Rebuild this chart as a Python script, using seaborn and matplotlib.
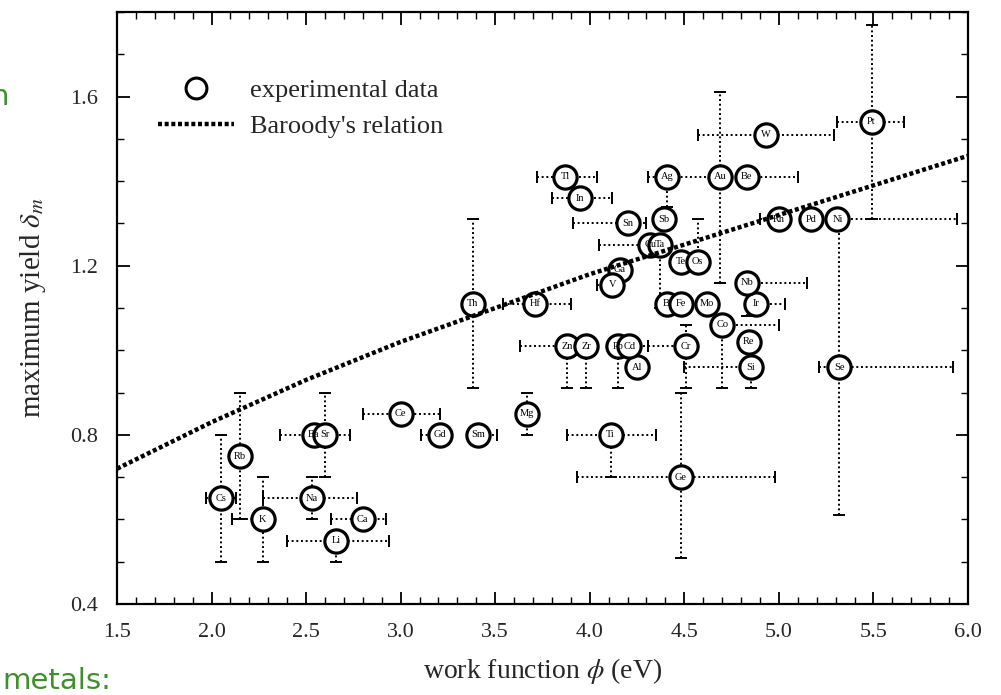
import numpy as np
import pandas as pd
import matplotlib
matplotlib.use("Agg")
import matplotlib.pyplot as plt
import seaborn as sns
from matplotlib.ticker import MultipleLocator, FormatStrFormatter
from matplotlib.lines import Line2D

# ---------------- data ----------------
elements = ["Cs", "Rb", "K", "Na", "Li", "Ca", "Ba", "Sr", "Ce", "Gd",
            "Sm", "Mg", "Th", "Hf", "Tl", "In", "Sn", "Ag", "Au", "Be",
            "W", "Pt", "Rh", "Pd", "Ni", "Se", "Ge", "Ti", "Al", "Zn",
            "Zr", "Pb", "Cd", "Cr", "Si", "Re", "Co", "Bi", "Fe", "Mo",
            "Ir", "Nb", "Ga", "V", "Cu", "Ta", "Sb", "Te", "Os"]
work_fn = [2.05, 2.15, 2.27, 2.53, 2.66, 2.80, 2.54, 2.60, 3.00, 3.21,
           3.41, 3.67, 3.38, 3.71, 3.87, 3.95, 4.20, 4.41, 4.69, 4.83,
           4.93, 5.49, 5.00, 5.17, 5.31, 5.32, 4.48, 4.11, 4.25, 3.88,
           3.98, 4.15, 4.21, 4.51, 4.85, 4.84, 4.70, 4.41, 4.48, 4.62,
           4.88, 4.83, 4.16, 4.12, 4.32, 4.37, 4.39, 4.48, 4.57]
max_yield = [0.65, 0.75, 0.60, 0.65, 0.55, 0.60, 0.80, 0.80, 0.85, 0.80,
             0.80, 0.85, 1.11, 1.11, 1.41, 1.36, 1.30, 1.41, 1.41, 1.41,
             1.51, 1.54, 1.31, 1.31, 1.31, 0.96, 0.70, 0.80, 0.96, 1.01,
             1.01, 1.01, 1.01, 1.01, 0.96, 1.02, 1.06, 1.11, 1.11, 1.11,
             1.11, 1.16, 1.19, 1.155, 1.25, 1.25, 1.31, 1.21, 1.21]
xerr_lo = [0.08, 0.04, 0.16, 0.26, 0.26, 0.17, 0.18, 0.00, 0.20, 0.10,
           0.00, 0.00, 0.04, 0.17, 0.15, 0.15, 0.29, 0.10, 0.00, 0.05,
           0.36, 0.18, 0.10, 0.00, 0.00, 0.11, 0.55, 0.23, 0.05, 0.25,
           0.00, 0.00, 0.00, 0.20, 0.35, 0.00, 0.00, 0.00, 0.00, 0.00,
           0.00, 0.00, 0.00, 0.08, 0.27, 0.00, 0.00, 0.00, 0.00]
xerr_hi = [0.08, 0.04, 0.00, 0.24, 0.28, 0.12, 0.00, 0.13, 0.21, 0.00,
           0.10, 0.00, 0.00, 0.19, 0.17, 0.17, 0.10, 0.25, 0.00, 0.27,
           0.36, 0.17, 0.00, 0.00, 0.63, 0.60, 0.50, 0.24, 0.00, 0.00,
           0.00, 0.10, 0.10, 0.00, 0.00, 0.00, 0.30, 0.00, 0.00, 0.00,
           0.15, 0.32, 0.00, 0.00, 0.00, 0.00, 0.00, 0.00, 0.00]
yerr_lo = [0.15, 0.15, 0.10, 0.05, 0.05, 0.00, 0.00, 0.10, 0.00, 0.00,
           0.00, 0.05, 0.20, 0.00, 0.00, 0.00, 0.02, 0.07, 0.25, 0.00,
           0.00, 0.23, 0.00, 0.00, 0.00, 0.35, 0.19, 0.10, 0.00, 0.10,
           0.10, 0.10, 0.00, 0.10, 0.05, 0.00, 0.15, 0.00, 0.00, 0.00,
           0.00, 0.08, 0.00, 0.00, 0.00, 0.15, 0.00, 0.00, 0.00]
yerr_hi = [0.15, 0.15, 0.10, 0.05, 0.00, 0.00, 0.00, 0.10, 0.00, 0.00,
           0.00, 0.05, 0.20, 0.00, 0.00, 0.00, 0.00, 0.00, 0.20, 0.00,
           0.00, 0.23, 0.00, 0.00, 0.00, 0.34, 0.20, 0.00, 0.00, 0.00,
           0.00, 0.00, 0.00, 0.05, 0.00, 0.00, 0.00, 0.00, 0.00, 0.00,
           0.00, 0.00, 0.00, 0.00, 0.00, 0.00, 0.00, 0.00, 0.10]

baroody_phi = [1.5, 2.0, 2.5, 3.0, 3.5, 4.0, 4.5, 5.0, 5.5, 6.0]
baroody_delta = [0.72, 0.83, 0.93, 1.02, 1.10, 1.18, 1.25, 1.32, 1.39, 1.46]

x_ticks = [1.5, 2.0, 2.5, 3.0, 3.5, 4.0, 4.5, 5.0, 5.5, 6.0]
y_ticks = [0.4, 0.8, 1.2, 1.6]

# ---------------- figure ----------------
sns.set_theme(style="ticks")
plt.rcParams["font.family"] = ["Liberation Serif", "DejaVu Serif"]
plt.rcParams["mathtext.fontset"] = "stix"

fig = plt.figure(figsize=(10.01, 6.95), dpi=100)
ax = fig.add_axes([0.1169, 0.1309, 0.8501, 0.8518])

df = pd.DataFrame({"phi": work_fn, "delta": max_yield, "el": elements})
line_df = pd.DataFrame({"phi": baroody_phi, "delta": baroody_delta})

eb = ax.errorbar(df["phi"], df["delta"],
                 xerr=[xerr_lo, xerr_hi], yerr=[yerr_lo, yerr_hi],
                 fmt="none", ecolor="black", elinewidth=1.4,
                 capsize=4, capthick=1.4, zorder=2)
for lc in eb[2]:
    lc.set_linestyle((0, (1, 1.4)))

sns.scatterplot(data=df, x="phi", y="delta", ax=ax, s=280,
                color="white", edgecolor="black", linewidth=2.3,
                zorder=3, legend=False)
for _, r in df.iterrows():
    ax.text(r["phi"], r["delta"], r["el"], ha="center", va="center",
            fontsize=7.5, zorder=5, color="black")

sns.lineplot(data=line_df, x="phi", y="delta", ax=ax, color="black",
             linewidth=3.2, linestyle=(0, (0.9, 0.6)), zorder=4,
             legend=False)

ax.set_xlim(1.5, 6.0)
ax.set_ylim(0.4, 1.8)
ax.set_xticks(x_ticks)
ax.set_yticks(y_ticks)
ax.xaxis.set_minor_locator(MultipleLocator(0.1))
ax.yaxis.set_minor_locator(MultipleLocator(0.1))
ax.xaxis.set_major_formatter(FormatStrFormatter("%.1f"))
ax.yaxis.set_major_formatter(FormatStrFormatter("%.1f"))
ax.tick_params(which="both", direction="in", top=True, right=True,
               color="black")
ax.tick_params(which="major", length=9, width=1.3, labelsize=16)
ax.tick_params(which="minor", length=5, width=1.0)
ax.tick_params(axis="x", which="major", pad=14)
ax.tick_params(axis="y", which="major", pad=14)
for sp in ax.spines.values():
    sp.set_linewidth(1.6)
    sp.set_color("black")

ax.set_xlabel(r"work function $\phi$ (eV)", fontsize=20)
ax.set_ylabel(r"maximum yield $\delta_m$", fontsize=21)
ax.xaxis.set_label_coords(0.5, -0.088)
ax.yaxis.set_label_coords(-0.081, 0.5)

handles = [
    Line2D([], [], marker="o", linestyle="none", markersize=15,
           markerfacecolor="white", markeredgecolor="black",
           markeredgewidth=2.2),
    Line2D([], [], color="black", linewidth=3.2, linestyle=(0, (0.9, 0.6))),
]
ax.legend(handles, ["experimental data", "Baroody's relation"],
          loc="upper left", bbox_to_anchor=(0.02, 0.927), frameon=False,
          fontsize=19, handlelength=2.9, labelspacing=0.45,
          handletextpad=0.6)

green = "#3f8f2c"
fig.text(0.002, 6 / 695, "metals:", color=green, fontsize=21,
         family="DejaVu Sans", ha="left", va="baseline")
fig.text(0.009, 1 - 97 / 695, "n", color=green, fontsize=21,
         family="DejaVu Sans", ha="right", va="center")

fig.savefig("out.png", dpi=100, facecolor="white")
